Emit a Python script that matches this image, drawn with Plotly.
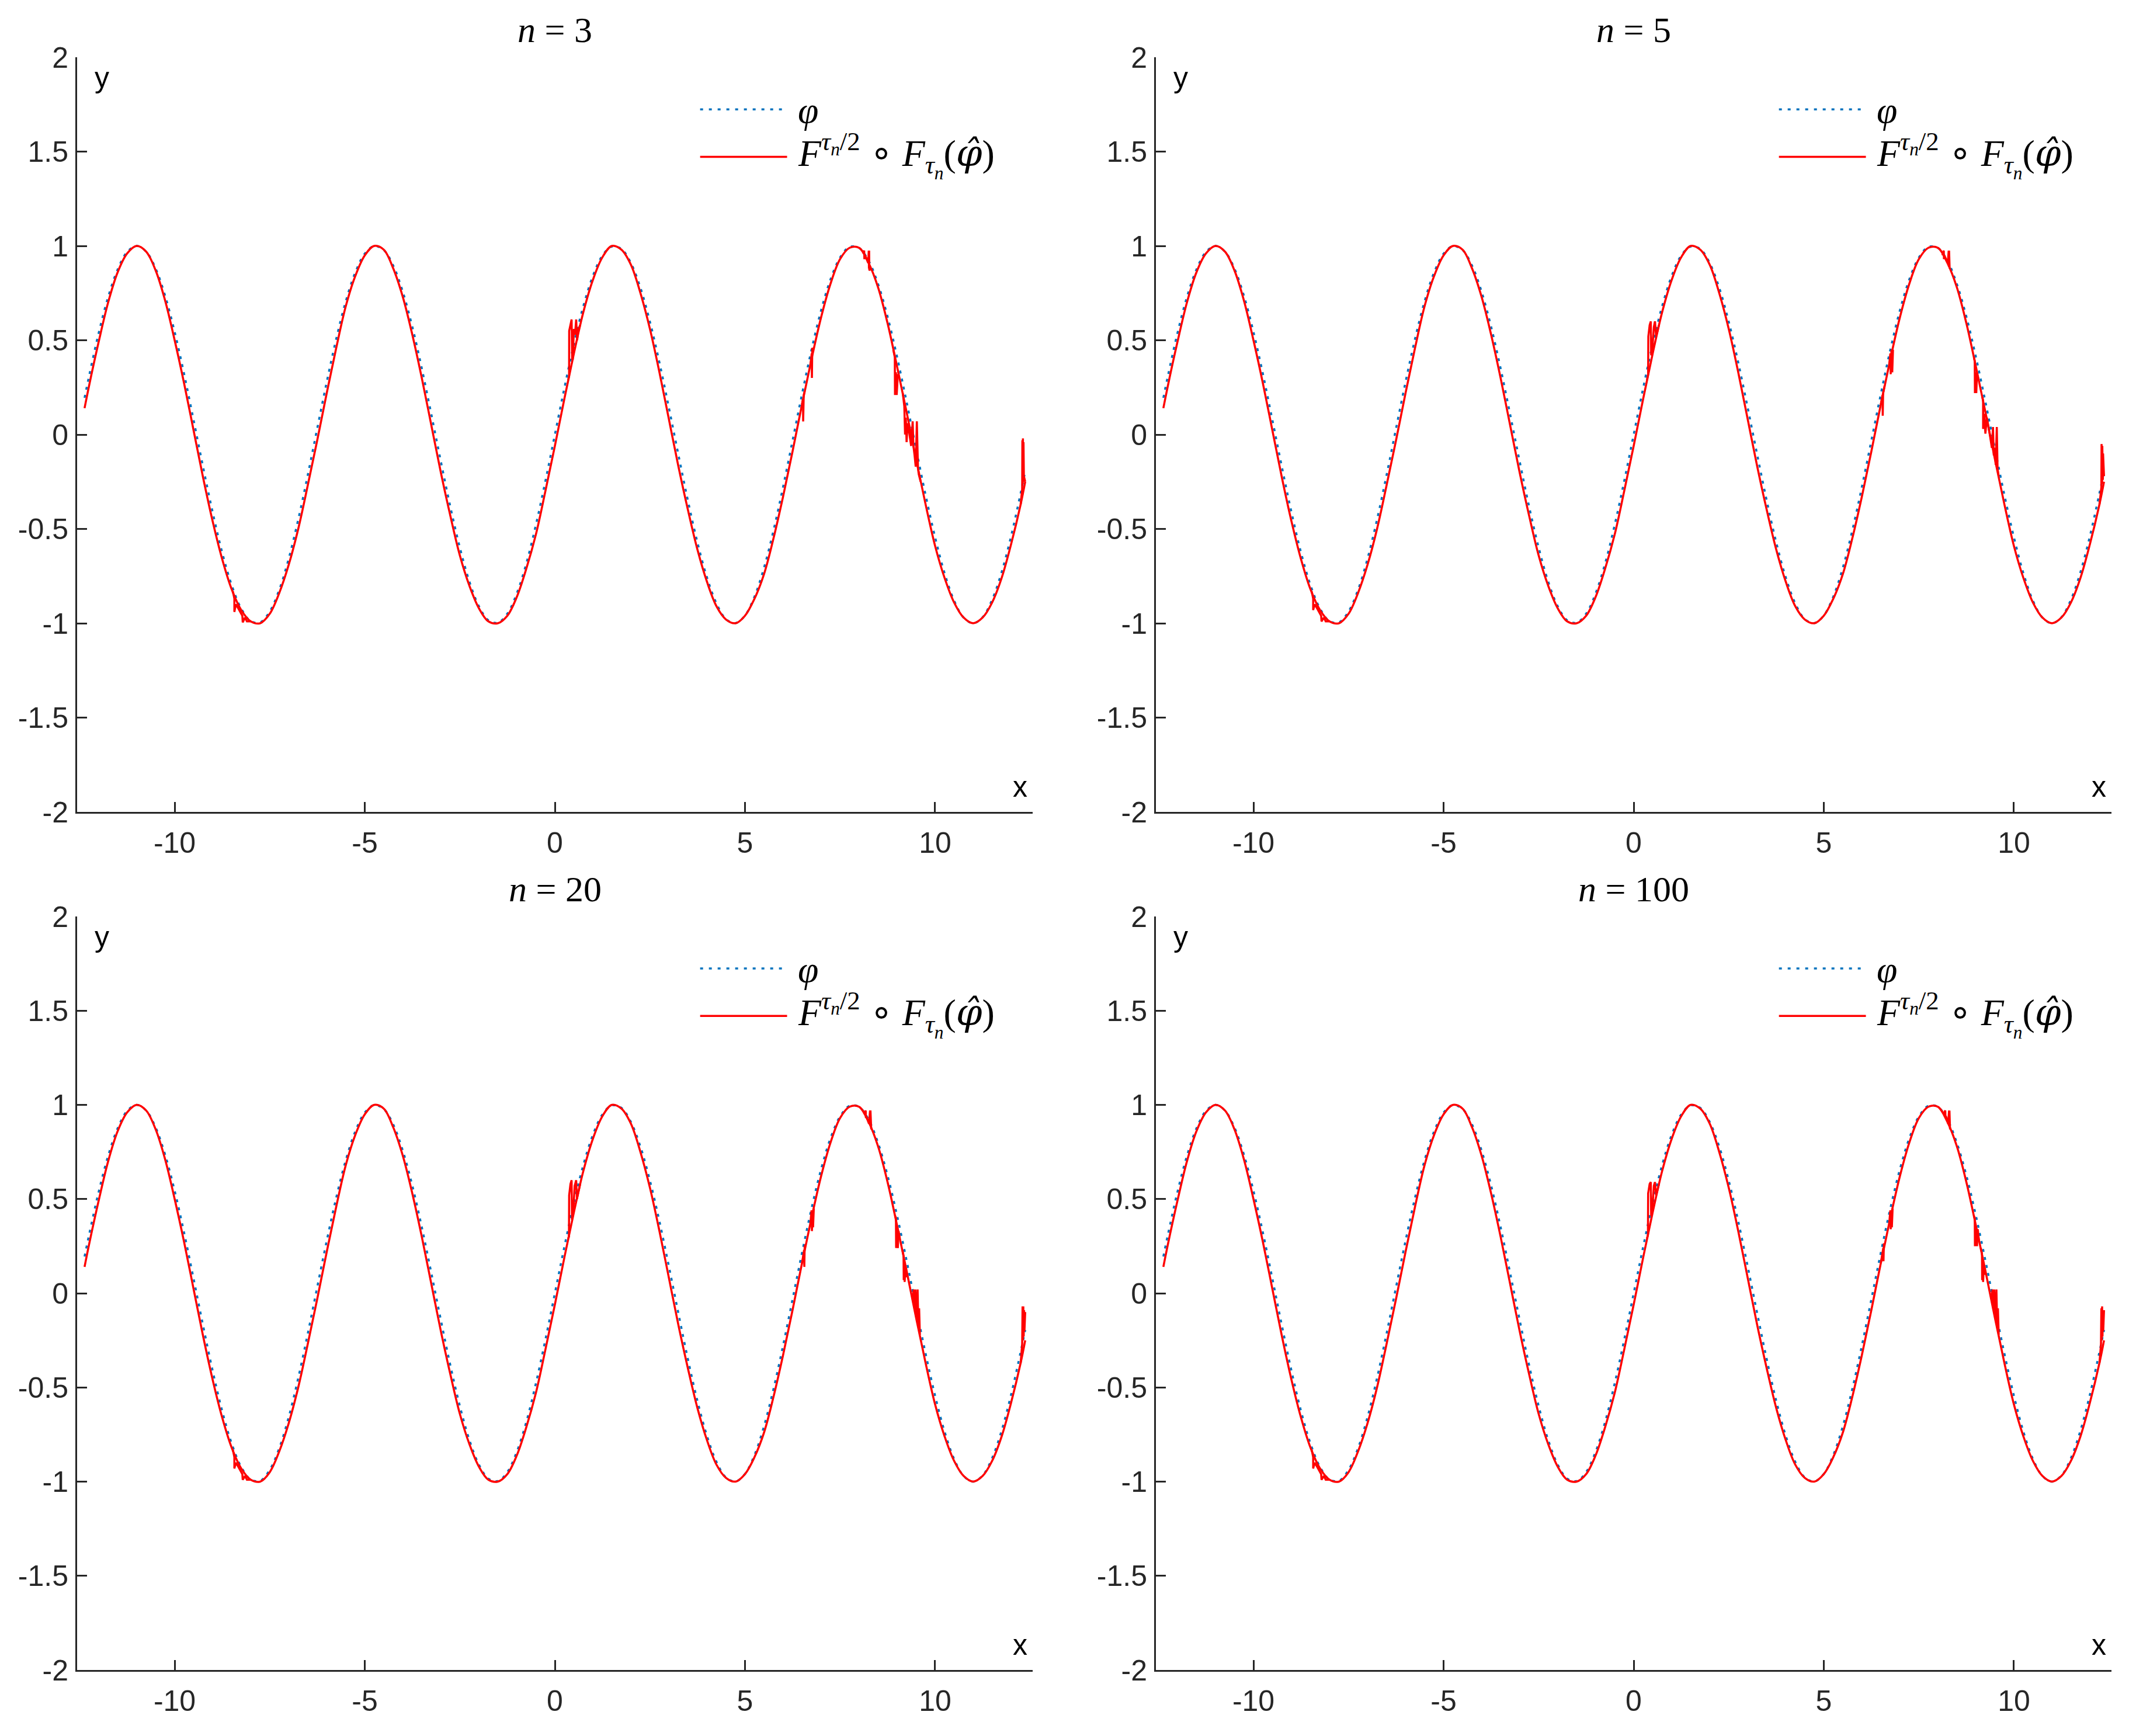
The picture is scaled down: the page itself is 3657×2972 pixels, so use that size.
import plotly.graph_objects as go
from plotly.subplots import make_subplots

# sample points along x (shared by both curves)
x_grid = [-12.37, -12.25, -12.0, -11.75, -11.5, -11.25, -11.0, -10.75, -10.5, -10.25,
          -10.0, -9.75, -9.5, -9.25, -9.0, -8.75, -8.5, -8.25, -8.0, -7.75,
          -7.5, -7.25, -7.0, -6.75, -6.5, -6.25, -6.0, -5.75, -5.5, -5.25,
          -5.0, -4.75, -4.5, -4.25, -4.0, -3.75, -3.5, -3.25, -3.0, -2.75,
          -2.5, -2.25, -2.0, -1.75, -1.5, -1.25, -1.0, -0.75, -0.5, -0.25,
          0.0, 0.25, 0.5, 0.75, 1.0, 1.25, 1.5, 1.75, 2.0, 2.25,
          2.5, 2.75, 3.0, 3.25, 3.5, 3.75, 4.0, 4.25, 4.5, 4.75,
          5.0, 5.25, 5.5, 5.75, 6.0, 6.25, 6.5, 6.75, 7.0, 7.25,
          7.5, 7.75, 8.0, 8.25, 8.5, 8.75, 9.0, 9.25, 9.5, 9.75,
          10.0, 10.25, 10.5, 10.75, 11.0, 11.25, 11.5, 11.75, 12.0, 12.25, 12.37]

# phi (blue dotted)
phi_y = [0.195, 0.311, 0.537, 0.729, 0.875, 0.968, 1.000, 0.970, 0.880, 0.735,
         0.544, 0.320, 0.075, -0.174, -0.412, -0.625, -0.798, -0.922, -0.989, -0.995,
         -0.938, -0.823, -0.657, -0.450, -0.215, 0.033, 0.279, 0.508, 0.706, 0.859,
         0.959, 0.999, 0.978, 0.895, 0.757, 0.572, 0.351, 0.108, -0.141, -0.382,
         -0.598, -0.778, -0.909, -0.984, -0.997, -0.949, -0.841, -0.682, -0.479, -0.247,
         0.000, 0.247, 0.479, 0.682, 0.841, 0.949, 0.997, 0.984, 0.909, 0.778,
         0.598, 0.382, 0.141, -0.108, -0.351, -0.572, -0.757, -0.895, -0.978, -0.999,
         -0.959, -0.859, -0.706, -0.508, -0.279, -0.033, 0.215, 0.450, 0.657, 0.823,
         0.938, 0.995, 0.989, 0.922, 0.798, 0.625, 0.412, 0.174, -0.075, -0.320,
         -0.544, -0.735, -0.880, -0.970, -1.000, -0.968, -0.875, -0.729, -0.537, -0.311, -0.195]

# reconstruction (red), smooth part
recon_y = [0.14, 0.26, 0.49, 0.70, 0.86, 0.96, 1.00, 0.97, 0.87, 0.71,
           0.50, 0.27, 0.02, -0.23, -0.46, -0.66, -0.82, -0.93, -0.99, -1.00,
           -0.95, -0.84, -0.69, -0.50, -0.27, -0.03, 0.22, 0.46, 0.68, 0.84,
           0.95, 1.00, 0.98, 0.88, 0.73, 0.53, 0.30, 0.05, -0.20, -0.43,
           -0.64, -0.80, -0.92, -0.99, -1.00, -0.96, -0.86, -0.71, -0.53, -0.30,
           -0.06, 0.19, 0.43, 0.65, 0.82, 0.94, 1.00, 0.98, 0.90, 0.75,
           0.56, 0.33, 0.08, -0.17, -0.40, -0.61, -0.78, -0.91, -0.98, -1.00,
           -0.96, -0.87, -0.74, -0.55, -0.33, -0.09, 0.16, 0.40, 0.62, 0.80,
           0.93, 0.99, 0.99, 0.91, 0.78, 0.59, 0.36, 0.12, -0.13, -0.37,
           -0.59, -0.76, -0.89, -0.97, -1.00, -0.97, -0.89, -0.76, -0.58, -0.37, -0.25]

# glitches of the red curve, one list per panel (None splits segments)
n3_glitch_x = [-8.47, -8.43, -8.43, -8.39, -8.33, -8.22, -8.21, -8.15, -8.10, -8.0, None,
               0.35, 0.374, 0.376, 0.41, 0.44, 0.455, 0.47, 0.50, 0.53, 0.56, 0.585, 0.62, 0.665, None,
               6.50, 6.525, 6.53, 6.545, 6.57, None,
               6.72, 6.755, 6.76, 6.77, 6.80, None,
               8.10, 8.135, 8.14, 8.16, 8.24, 8.255, 8.26, 8.265, 8.27, 8.30, None,
               8.90, 8.94, 8.945, 8.97, 8.99, 9.00, 9.02, 9.06, None,
               9.15, 9.19, 9.21, 9.23, 9.25, 9.28, 9.32, 9.37, 9.41, 9.43, 9.46, 9.49, 9.52, 9.55, 9.57, 9.62, None,
               12.25, 12.29, 12.295, 12.305, 12.31, 12.32, 12.325, 12.335, 12.37]
n3_glitch_y = [-0.83, -0.87, -0.94, -0.90, -0.92, -0.96, -0.995, -0.97, -0.99, -0.99, None,
               0.29, 0.31, 0.55, 0.58, 0.61, 0.40, 0.40, 0.56, 0.53, 0.61, 0.50, 0.56, 0.58, None,
               0.16, 0.19, 0.07, 0.21, 0.23, None,
               0.37, 0.43, 0.30, 0.46, 0.44, None,
               0.96, 0.975, 0.93, 0.95, 0.91, 0.975, 0.88, 0.975, 0.87, 0.88, None,
               0.45, 0.41, 0.21, 0.33, 0.21, 0.25, 0.32, 0.30, None,
               0.22, 0.15, 0.00, 0.09, -0.04, 0.06, 0.01, -0.06, 0.07, -0.06, -0.11, -0.17, 0.07, -0.18, -0.21, -0.25, None,
               -0.37, -0.29, -0.03, -0.26, -0.02, -0.25, -0.04, -0.22, -0.25]

n5_glitch_x = [-8.47, -8.43, -8.43, -8.39, -8.33, -8.22, -8.21, -8.15, -8.10, -8.0, None,
               0.35, 0.38, 0.385, 0.42, 0.45, 0.46, 0.49, 0.53, 0.56, 0.59, 0.665, None,
               6.50, 6.545, 6.55, 6.56, 6.60, None,
               6.72, 6.75, 6.76, 6.78, 6.80, 6.82, None,
               8.12, 8.155, 8.16, 8.17, 8.26, 8.285, 8.29, 8.295, 8.31, None,
               8.95, 8.97, 8.975, 9.00, 9.01, 9.03, 9.06, None,
               9.17, 9.19, 9.19, 9.22, 9.25, 9.29, 9.37, 9.42, 9.45, 9.47, 9.50, 9.52, 9.55, 9.57, 9.60, None,
               12.25, 12.30, 12.305, 12.32, 12.325, 12.34, 12.345, 12.37]
n5_glitch_y = [-0.83, -0.87, -0.93, -0.90, -0.92, -0.96, -0.99, -0.97, -0.99, -0.99, None,
               0.29, 0.32, 0.52, 0.58, 0.60, 0.42, 0.45, 0.57, 0.60, 0.52, 0.58, None,
               0.16, 0.21, 0.10, 0.22, 0.26, None,
               0.37, 0.43, 0.32, 0.45, 0.33, 0.45, None,
               0.95, 0.975, 0.93, 0.95, 0.91, 0.975, 0.89, 0.975, 0.88, None,
               0.41, 0.39, 0.22, 0.33, 0.22, 0.32, 0.30, None,
               0.20, 0.18, 0.03, 0.11, 0.005, 0.09, -0.005, -0.07, 0.04, -0.11, -0.07, -0.16, 0.04, -0.18, -0.22, None,
               -0.37, -0.28, -0.05, -0.26, -0.06, -0.24, -0.10, -0.22]

n20_glitch_x = [-8.47, -8.43, -8.43, -8.39, -8.33, -8.22, -8.21, -8.15, -8.10, -8.0, None,
                0.35, 0.37, 0.375, 0.41, 0.44, 0.45, 0.48, 0.52, 0.56, 0.58, 0.665, None,
                6.50, 6.555, 6.56, 6.57, 6.60, None,
                6.72, 6.75, 6.76, 6.78, 6.79, 6.81, None,
                8.13, 8.175, 8.18, 8.19, 8.26, 8.29, 8.295, 8.30, 8.32, None,
                8.95, 8.97, 8.975, 9.00, 9.02, 9.04, 9.07, None,
                9.14, 9.17, 9.175, 9.19, 9.20, 9.22, 9.24, 9.27, None,
                9.40, 9.44, 9.46, 9.48, 9.52, 9.54, 9.56, 9.58, 9.60, None,
                12.25, 12.29, 12.30, 12.31, 12.32, 12.33, 12.34, 12.35, 12.37]
n20_glitch_y = [-0.83, -0.87, -0.93, -0.90, -0.92, -0.96, -0.99, -0.97, -0.99, -0.99, None,
                0.29, 0.30, 0.52, 0.58, 0.60, 0.39, 0.42, 0.57, 0.60, 0.50, 0.58, None,
                0.16, 0.23, 0.14, 0.25, 0.26, None,
                0.37, 0.44, 0.33, 0.44, 0.35, 0.45, None,
                0.95, 0.97, 0.93, 0.94, 0.90, 0.97, 0.89, 0.97, 0.87, None,
                0.41, 0.40, 0.24, 0.34, 0.24, 0.33, 0.29, None,
                0.23, 0.20, 0.07, 0.16, 0.06, 0.15, 0.09, 0.09, None,
                -0.03, 0.02, -0.09, 0.02, -0.14, 0.02, -0.17, -0.08, -0.22, None,
                -0.37, -0.27, -0.07, -0.25, -0.07, -0.23, -0.09, -0.20, -0.10]

n100_glitch_x = [-8.47, -8.43, -8.43, -8.39, -8.33, -8.22, -8.21, -8.15, -8.10, -8.0, None,
                 0.35, 0.375, 0.38, 0.42, 0.45, 0.46, 0.49, 0.53, 0.56, 0.59, 0.665, None,
                 6.50, 6.565, 6.57, 6.58, 6.60, None,
                 6.72, 6.75, 6.76, 6.78, 6.79, 6.81, None,
                 8.14, 8.195, 8.20, 8.21, 8.27, 8.295, 8.30, 8.305, 8.32, None,
                 8.95, 8.97, 8.975, 9.00, 9.03, 9.05, 9.08, None,
                 9.13, 9.16, 9.165, 9.18, 9.19, 9.21, 9.22, 9.26, None,
                 9.40, 9.44, 9.46, 9.48, 9.52, 9.54, 9.56, 9.58, 9.60, None,
                 12.25, 12.29, 12.30, 12.31, 12.32, 12.33, 12.34, 12.35, 12.37]
n100_glitch_y = [-0.83, -0.87, -0.93, -0.90, -0.92, -0.96, -0.99, -0.97, -0.99, -0.99, None,
                 0.29, 0.31, 0.53, 0.58, 0.59, 0.41, 0.44, 0.57, 0.59, 0.52, 0.58, None,
                 0.16, 0.24, 0.17, 0.26, 0.26, None,
                 0.37, 0.44, 0.34, 0.44, 0.35, 0.45, None,
                 0.95, 0.97, 0.93, 0.94, 0.90, 0.97, 0.90, 0.97, 0.87, None,
                 0.41, 0.40, 0.25, 0.34, 0.25, 0.34, 0.28, None,
                 0.24, 0.21, 0.07, 0.16, 0.06, 0.15, 0.10, 0.11, None,
                 -0.03, 0.02, -0.09, 0.02, -0.14, 0.02, -0.17, -0.08, -0.22, None,
                 -0.37, -0.27, -0.08, -0.25, -0.07, -0.23, -0.09, -0.20, -0.09]

panel_n = ["3", "5", "20", "100"]
glitch_x = [n3_glitch_x, n5_glitch_x, n20_glitch_x, n100_glitch_x]
glitch_y = [n3_glitch_y, n5_glitch_y, n20_glitch_y, n100_glitch_y]

x_ticks = [-10, -5, 0, 5, 10]
x_tick_labels = ["-10", "-5", "0", "5", "10"]
y_ticks = [-2, -1.5, -1, -0.5, 0, 0.5, 1, 1.5, 2]
y_tick_labels = ["-2", "-1.5", "-1", "-0.5", "0", "0.5", "1", "1.5", "2"]
x_limits = [-12.566, 12.566]
y_limits = [-2, 2]

BLUE = "#0072BD"
RED = "#FF0000"
AXIS = "#262626"
SERIF = "Liberation Serif"
SANS = "Liberation Sans"

W, H = 3657, 2972
OFF = 8  # page body margin of the html


def px_x(p):
    return (p - OFF) / W


def px_y(p):
    return 1 - (p - OFF) / H


# panel boxes in pixels: left, right / top, bottom
x_domains = [[px_x(132), px_x(1768)], [px_x(1979), px_x(3615)]]
y_domains = [[px_y(1390), px_y(98)], [px_y(2859), px_y(1569)]]

fig = make_subplots(rows=2, cols=2)

annotations = []
shapes = []
for i in range(4):
    row, col = i // 2 + 1, i % 2 + 1
    fig.add_trace(go.Scatter(x=x_grid, y=phi_y, mode="lines", line_shape="spline",
                             line=dict(color=BLUE, width=3.5, dash="5px,9px"),
                             showlegend=False, hoverinfo="skip"), row=row, col=col)
    fig.add_trace(go.Scatter(x=x_grid, y=recon_y, mode="lines", line_shape="spline",
                             line=dict(color=RED, width=3.5),
                             showlegend=False, hoverinfo="skip"), row=row, col=col)
    fig.add_trace(go.Scatter(x=glitch_x[i], y=glitch_y[i], mode="lines",
                             line=dict(color=RED, width=3.5), connectgaps=False,
                             showlegend=False, hoverinfo="skip"), row=row, col=col)

    sfx = "" if i == 0 else str(i + 1)
    xd = x_domains[col - 1]
    yd = y_domains[row - 1]
    axis_common = dict(showline=True, linecolor=AXIS, linewidth=3, mirror=False,
                       ticks="inside", ticklen=17, tickwidth=3, tickcolor=AXIS,
                       tickfont=dict(family=SANS, size=50, color=AXIS),
                       showgrid=False, zeroline=False, automargin=False)
    fig.update_layout({
        f"xaxis{sfx}": dict(domain=xd, range=x_limits, tickvals=x_ticks, ticktext=x_tick_labels,
                            ticklabelstandoff=7, **axis_common),
        f"yaxis{sfx}": dict(domain=yd, range=y_limits, tickvals=y_ticks, ticktext=y_tick_labels,
                            ticklabelstandoff=2, **axis_common),
    })

    xr = f"x{sfx} domain"
    yr = f"y{sfx} domain"
    # panel title
    annotations.append(dict(text=f"<i>n</i> = {panel_n[i]}", x=(xd[0] + xd[1]) / 2,
                            y=yd[1] + 47 / H, xref="paper", yref="paper",
                            xanchor="center", yanchor="middle", showarrow=False,
                            font=dict(family=SERIF, size=62, color="black")))
    # axis names
    annotations.append(dict(text="y", x=0.026, y=0.973, xref=xr, yref=yr,
                            xanchor="center", yanchor="middle", showarrow=False,
                            font=dict(family=SANS, size=50, color="black")))
    annotations.append(dict(text="x", x=0.987, y=0.033, xref=xr, yref=yr,
                            xanchor="center", yanchor="middle", showarrow=False,
                            font=dict(family=SANS, size=50, color="black")))
    # legend
    shapes.append(dict(type="line", xref=xr, yref=yr, x0=0.652, x1=0.738, y0=0.931, y1=0.931,
                       line=dict(color=BLUE, width=3.5, dash="5px,10px")))
    shapes.append(dict(type="line", xref=xr, yref=yr, x0=0.652, x1=0.743, y0=0.868, y1=0.868,
                       line=dict(color=RED, width=3.5)))
    annotations.append(dict(text="<i>φ</i>", x=0.753, y=0.930, xref=xr, yref=yr,
                            xanchor="left", yanchor="middle", showarrow=False,
                            font=dict(family=SERIF, size=64, color="black")))
    annotations.append(dict(text="<i>F</i><sup><i>τ<sub>n</sub></i>/2</sup> ∘ "
                                 "<i>F</i><sub><i>τ<sub>n</sub></i></sub>"
                                 "(<span style=\"font-family:'DejaVu Serif'\"><i>φ̂</i></span>)",
                            x=0.753, y=0.870, xref=xr, yref=yr,
                            xanchor="left", yanchor="middle", showarrow=False,
                            font=dict(family=SERIF, size=64, color="black")))

fig.update_layout(
    width=W, height=H,
    margin=dict(l=0, r=0, t=0, b=0, autoexpand=False),
    paper_bgcolor="white", plot_bgcolor="white",
    showlegend=False,
    annotations=annotations,
    shapes=shapes,
)

fig.write_html("out.html")
